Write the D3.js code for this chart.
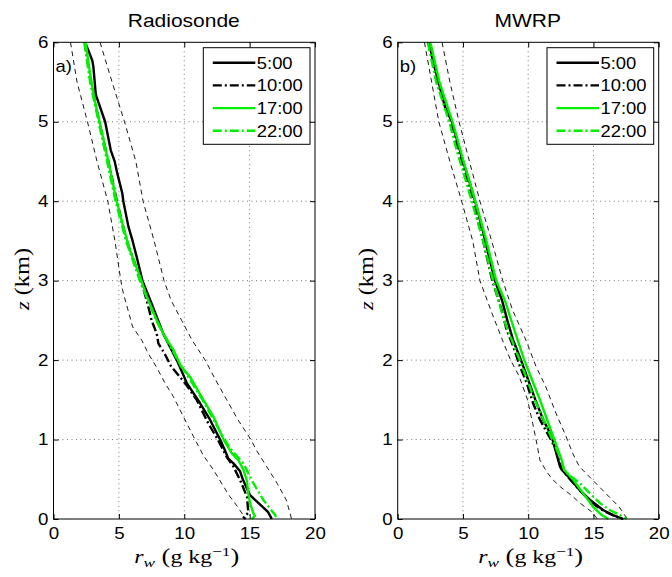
<!DOCTYPE html>
<html>
<head>
<meta charset="utf-8">
<script src="https://cdn.jsdelivr.net/npm/d3@7"></script>
<style>
  body { margin: 0; background: #fff; }
  .sans { font-family: "Liberation Sans", Arial, Helvetica, sans-serif; font-size: 16px; fill: #000; }
  .serif { font-family: "Liberation Serif", "Times New Roman", serif; fill: #000; }
</style>
</head>
<body>
<svg id="chart" width="672" height="577"></svg>
<script>
// Water-vapour mixing ratio profiles, each point is [height z (km), r_w (g/kg)]

// Radiosonde launches
const sonde0500 = [[6,2.41],[5.9,2.66],[5.77,2.97],[5.69,3.05],[5.35,3.23],[5.31,3.3],[5.0,3.95],[4.64,4.38],[4.5,4.68],[4.35,4.88],[4.1,5.26],[4.0,5.34],[3.68,5.73],[3.5,6.05],[3.3,6.36],[3.0,6.8],[2.71,7.51],[2.33,8.4],[2.0,9.43],[1.71,10.2],[1.46,11.2],[1.25,11.97],[1.0,12.74],[0.87,13.1],[0.76,13.37],[0.7,13.76],[0.6,14.27],[0.49,14.5],[0.3,15.03],[0.09,16.4],[0,16.7]];
const sonde1000 = [[6,2.4],[5.5,2.85],[5,3.5],[4.5,4.2],[4,4.85],[3.5,5.6],[3,6.7],[2.75,7.13],[2.59,7.38],[2.5,7.5],[2.33,7.9],[2.21,8.02],[2.08,8.5],[1.92,9.0],[1.71,10.06],[1.5,10.95],[1.2,11.85],[0.99,12.6],[0.78,13.25],[0.66,13.76],[0.49,14.27],[0.28,14.8],[0.08,14.9],[0.02,14.55],[0,14.7]];
const sonde1700 = [[6,2.46],[5.69,2.72],[5.31,3.1],[4.93,3.61],[4.56,4.12],[4.26,4.5],[4.0,4.83],[3.68,5.34],[3.38,5.85],[3.05,6.62],[2.8,7.13],[2.5,7.9],[2.33,8.4],[2.13,9.17],[1.92,9.75],[1.79,10.44],[1.5,11.46],[1.29,12.23],[1.0,13.0],[0.83,13.63],[0.74,14.14],[0.62,14.52],[0.49,14.78],[0.32,14.9],[0.2,15.03],[0.07,15.29],[0.04,15.4],[0,15.16]];
const sonde2200 = [[6,2.35],[5.5,2.8],[5,3.45],[4.5,4.1],[4,4.75],[3.5,5.55],[3,6.6],[2.5,7.85],[2,9.5],[1.5,11.4],[1.2,12.4],[1.0,13.1],[0.89,13.5],[0.7,14.52],[0.45,15.29],[0.24,16.05],[0.05,16.95],[0,17.1]];
const sondeLower = [[6,1.3],[5.5,1.8],[5,2.6],[4.5,3.33],[4,4.15],[3.5,4.7],[3,5.15],[2.84,5.34],[2.63,5.7],[2.42,6.05],[2.25,6.75],[2.08,7.26],[1.92,7.85],[1.71,8.53],[1.54,9.17],[1.29,9.93],[1.04,10.7],[0.8,11.46],[0.62,12.23],[0.41,13.0],[0.28,13.5],[0.15,14.1],[0.05,14.5],[0,14.6]];
const sondeUpper = [[6,3.56],[5.5,4.48],[5,5.43],[4.5,6.3],[4,6.85],[3.5,7.7],[3,8.45],[2.75,9.0],[2.5,9.8],[2.25,10.6],[2.0,11.6],[1.75,12.4],[1.5,13.25],[1.25,14.1],[1.0,15.1],[0.87,15.5],[0.66,16.3],[0.45,17.1],[0.24,17.8],[0.07,18.1],[0,18.2]];

// Microwave radiometer retrievals
const mwrp0500 = [[6,2.42],[5.75,2.72],[5.52,3.1],[5.19,3.62],[4.98,4.2],[4.56,4.9],[4.22,5.54],[3.93,6.05],[3.64,6.51],[3.3,7.0],[3,7.45],[2.75,8.0],[2.5,8.4],[2.25,8.85],[2,9.45],[1.75,10.0],[1.5,10.55],[1.25,11.15],[1.04,11.8],[0.8,12.2],[0.66,12.44],[0.62,12.57],[0.51,13.2],[0.36,13.97],[0.24,14.74],[0.11,15.76],[0.05,16.5],[0,17.3]];
const mwrp1000 = [[6,2.35],[5.5,3.0],[5,4.05],[4.5,4.9],[4,5.75],[3.5,6.55],[3,7.25],[2.63,7.97],[2.38,8.35],[2.17,8.86],[1.92,9.37],[1.71,9.89],[1.45,10.39],[1.25,10.9],[1.02,11.67],[0.83,12.26],[0.7,12.5],[0.6,12.7],[0.5,13.2],[0.35,14.0],[0.2,14.9],[0.1,15.8],[0.04,16.6],[0,17.2]];
const mwrp1700 = [[6,2.5],[5.5,3.2],[5,4.2],[4.5,5.05],[4,5.95],[3.5,6.8],[3,7.55],[2.75,8.22],[2.5,8.7],[2.0,9.7],[1.75,10.3],[1.5,10.9],[1.25,11.45],[1.0,12.0],[0.74,12.57],[0.62,12.75],[0.49,13.46],[0.32,14.22],[0.15,14.99],[0.05,15.63],[0,16.15]];
const mwrp2200 = [[6,2.3],[5.5,2.95],[5,3.95],[4.64,4.52],[4.22,5.29],[4,5.67],[3.5,6.55],[3,7.3],[2.5,8.15],[2,9.35],[1.5,10.5],[1,11.85],[0.75,12.5],[0.6,12.8],[0.45,13.97],[0.32,14.74],[0.2,15.5],[0.11,16.27],[0.05,17.03],[0,17.55]];
const mwrpLower = [[6,2.05],[5.5,2.6],[5,3.15],[4.5,4.0],[4,4.9],[3.5,5.75],[3,6.3],[2.6,7.2],[2.2,8.15],[2,8.65],[1.8,9.3],[1.5,9.95],[1.2,10.35],[1.0,10.6],[0.74,10.9],[0.6,11.4],[0.5,11.85],[0.4,12.5],[0.3,13.3],[0.2,13.97],[0.09,14.87],[0,15.3]];
const mwrpUpper = [[6,3.4],[5.5,4.0],[5,4.7],[4.5,5.5],[4,6.3],[3.5,7.2],[3,8.05],[2.63,8.8],[2.25,9.83],[1.92,10.6],[1.66,11.36],[1.33,12.13],[1.04,12.9],[0.83,13.4],[0.66,13.92],[0.49,14.94],[0.32,15.96],[0.15,16.98],[0,17.6]];

const timeLabels = ["5:00", "10:00", "17:00", "22:00"];
const xTicks = [0, 5, 10, 15, 20];
const yTicks = [0, 1, 2, 3, 4, 5, 6];
const panelTitles = ["Radiosonde", "MWRP"];
const panelTags = ["a)", "b)"];

// line appearance per launch time
const styles = {
  "5:00":  { color: "#000000", width: 2.4, dash: null },
  "10:00": { color: "#000000", width: 2.4, dash: "9,3,2,3" },
  "17:00": { color: "#00f000", width: 2.4, dash: null },
  "22:00": { color: "#00f000", width: 2.4, dash: "9,3,2,3" }
};
const boundStyle = { color: "#000000", width: 0.9, dash: "5,4" };

const panels = [
  { title: panelTitles[0], tag: panelTags[0], left: 53.5, right: 315,
    series: [sonde0500, sonde1000, sonde1700, sonde2200], bounds: [sondeLower, sondeUpper] },
  { title: panelTitles[1], tag: panelTags[1], left: 397.7, right: 658.7,
    series: [mwrp0500, mwrp1000, mwrp1700, mwrp2200], bounds: [mwrpLower, mwrpUpper] }
];
const plotTop = 42.3, plotBottom = 519;

const svg = d3.select("#chart");

// horizontally widen a sans-serif label about its anchor point
function widen(sel, k) {
  sel.each(function () {
    const t = d3.select(this);
    const ax = +t.attr("x") || 0;
    const prev = t.attr("transform") || "";
    t.attr("transform", `${prev} translate(${ax},0) scale(${k},1) translate(${-ax},0)`);
  });
}

panels.forEach((p) => {
  const x = d3.scaleLinear().domain([0, 20]).range([p.left, p.right]);
  const y = d3.scaleLinear().domain([0, 6]).range([plotBottom, plotTop]);
  const g = svg.append("g");

  // dotted grid
  g.append("g").selectAll("line").data(xTicks.slice(1, -1)).join("line")
    .attr("x1", d => x(d)).attr("x2", d => x(d)).attr("y1", plotTop).attr("y2", plotBottom)
    .attr("stroke", "#666").attr("stroke-width", 0.9).attr("stroke-dasharray", "1,3.5");
  g.append("g").selectAll("line").data(yTicks.slice(1, -1)).join("line")
    .attr("y1", d => y(d)).attr("y2", d => y(d)).attr("x1", p.left).attr("x2", p.right)
    .attr("stroke", "#666").attr("stroke-width", 0.9).attr("stroke-dasharray", "1,3.5");

  const line = d3.line().x(d => x(d[1])).y(d => y(d[0]));

  // spread envelope
  p.bounds.forEach(b => {
    g.append("path").datum(b).attr("d", line).attr("fill", "none")
      .attr("stroke", boundStyle.color).attr("stroke-width", boundStyle.width)
      .attr("stroke-dasharray", boundStyle.dash);
  });

  // profiles
  p.series.forEach((s, i) => {
    const st = styles[timeLabels[i]];
    g.append("path").datum(s).attr("d", line).attr("fill", "none")
      .attr("stroke", st.color).attr("stroke-width", st.width)
      .attr("stroke-linejoin", "round")
      .attr("stroke-dasharray", st.dash);
  });

  // axes with inward ticks on all four sides
  const ax = (gen, tx, ty, labels) => {
    const a = g.append("g").attr("transform", `translate(${tx},${ty})`).call(gen);
    a.attr("font-size", null).attr("font-family", null);
    a.select(".domain").remove();
    a.selectAll(".tick line").attr("stroke", "#000");
    a.selectAll("text").attr("class", "sans");
    if (!labels) a.selectAll("text").remove();
    else widen(a.selectAll("text"), 1.17);
    return a;
  };
  const fmt = d3.format("d");
  ax(d3.axisBottom(x).tickValues(xTicks).tickFormat(fmt).tickSizeInner(-5).tickSizeOuter(0).tickPadding(9), 0, plotBottom, true);
  ax(d3.axisTop(x).tickValues(xTicks).tickSizeInner(-5).tickSizeOuter(0), 0, plotTop, false);
  ax(d3.axisLeft(y).tickValues(yTicks).tickFormat(fmt).tickSizeInner(-5).tickSizeOuter(0).tickPadding(5), p.left, 0, true);
  ax(d3.axisRight(y).tickValues(yTicks).tickSizeInner(-5).tickSizeOuter(0), p.right, 0, false);

  g.append("rect").attr("x", p.left).attr("y", plotTop)
    .attr("width", p.right - p.left).attr("height", plotBottom - plotTop)
    .attr("fill", "none").attr("stroke", "#000").attr("stroke-width", 1);

  // title and panel tag
  const title = g.append("text").attr("class", "sans").attr("x", (p.left + p.right) / 2 - 0.5).attr("y", 27)
    .attr("text-anchor", "middle").style("font-size", "17.5px").text(p.title);
  widen(title, 1.2);
  const tag = g.append("text").attr("class", "sans").attr("x", p.left + 2).attr("y", 72).text(p.tag);
  widen(tag, 1.15);

  // legend
  const lg = g.append("g");
  const lx = p.right - 111.7, ly = 47.7;
  lg.append("rect").attr("x", lx).attr("y", ly).attr("width", 106.7).attr("height", 96.6)
    .attr("fill", "#fff").attr("stroke", "#000").attr("stroke-width", 1);
  timeLabels.forEach((t, i) => {
    const st = styles[t];
    const yy = ly + 15 + i * 22.7;
    lg.append("line").attr("x1", lx + 9.5).attr("x2", lx + 52).attr("y1", yy).attr("y2", yy)
      .attr("stroke", st.color).attr("stroke-width", st.width).attr("stroke-dasharray", st.dash);
    const lt = lg.append("text").attr("class", "sans").attr("x", lx + 53.5).attr("y", yy + 6).text(t);
    widen(lt, 1.15);
  });

  // axis labels
  const xl = g.append("text").attr("class", "serif").attr("x", (p.left + p.right) / 2 + 2.5).attr("y", 563)
    .attr("text-anchor", "middle").style("font-size", "18px");
  xl.append("tspan").style("font-style", "italic").text("r");
  xl.append("tspan").style("font-style", "italic").style("font-size", "13px").attr("dy", 4).text("w");
  xl.append("tspan").attr("dy", -4).style("font-size", "20px").text(" (");
  xl.append("tspan").text("g kg");
  xl.append("tspan").style("font-size", "13px").attr("dy", -7).text("\u22121");
  xl.append("tspan").attr("dy", 7).style("font-size", "20px").text(")");
  xl.attr("textLength", 105).attr("lengthAdjust", "spacingAndGlyphs");

  const yl = g.append("text").attr("class", "serif")
    .attr("transform", `translate(${p.left - 25},${279}) rotate(-90)`)
    .attr("text-anchor", "middle").style("font-size", "19px");
  yl.append("tspan").style("font-style", "italic").text("z");
  yl.append("tspan").style("font-size", "21px").text(" (km)");
  yl.attr("textLength", 62).attr("lengthAdjust", "spacingAndGlyphs");
});
</script>
</body>
</html>
